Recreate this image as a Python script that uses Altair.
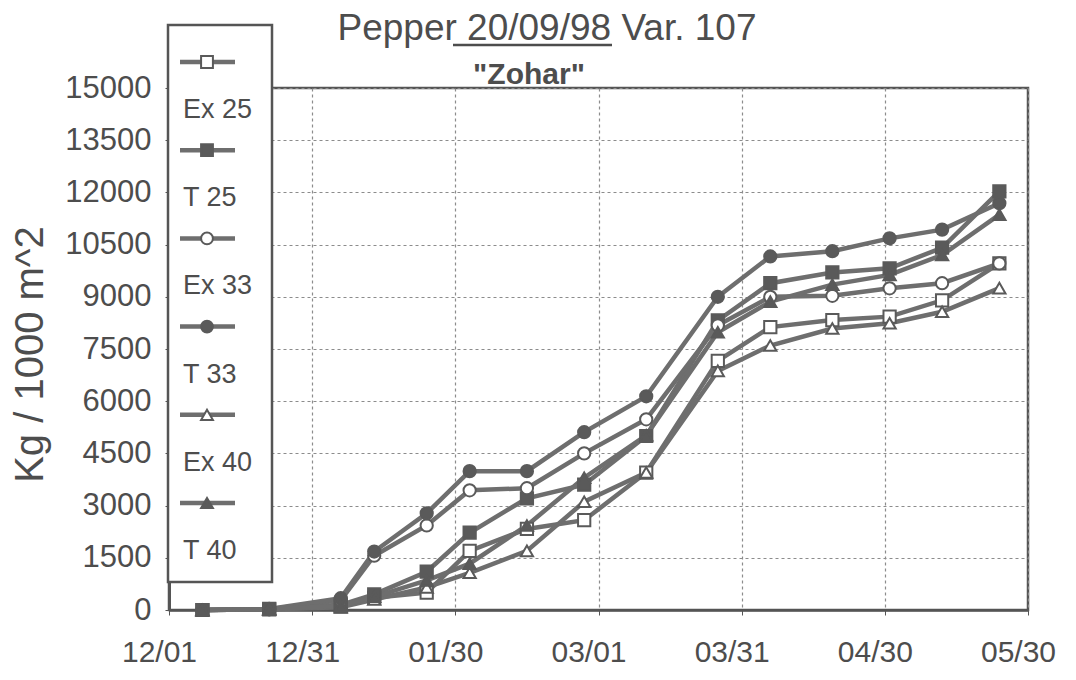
import altair as alt
import pandas as pd

# ---- data ----
dates = ["1998-12-08", "1998-12-22", "1999-01-06", "1999-01-13", "1999-01-24",
         "1999-02-02", "1999-02-14", "1999-02-26", "1999-03-11", "1999-03-26",
         "1999-04-06", "1999-04-19", "1999-05-01", "1999-05-12", "1999-05-24"]
ex25 = [0, 20, 100, 350, 500, 1700, 2330, 2580, 3950, 7160, 8130, 8330, 8430, 8900, 9960]
t25 = [0, 30, 150, 450, 1100, 2220, 3210, 3600, 5000, 8320, 9390, 9700, 9820, 10410, 12030]
ex33 = [0, 20, 280, 1560, 2430, 3440, 3500, 4500, 5480, 8180, 9000, 9030, 9245, 9390, 9960]
t33 = [0, 30, 340, 1680, 2780, 3990, 3990, 5110, 6140, 9000, 10160, 10310, 10680, 10930, 11690]
ex40 = [0, 20, 80, 300, 650, 1070, 1700, 3110, 3950, 6870, 7600, 8090, 8240, 8570, 9250]
t40 = [0, 20, 120, 380, 850, 1330, 2430, 3800, 5020, 7980, 8860, 9350, 9630, 10200, 11360]

series_names = ["Ex 25", "T 25", "Ex 33", "T 33", "Ex 40", "T 40"]
series_values = [ex25, t25, ex33, t33, ex40, t40]
series_shapes = ["square", "square", "circle", "circle", "triangle-up", "triangle-up"]
series_fills = ["white", "#5a5a5a", "white", "#5a5a5a", "white", "#5a5a5a"]

x_tick_dates = ["1998-12-01", "1998-12-31", "1999-01-30", "1999-03-01",
                "1999-03-31", "1999-04-30", "1999-05-30"]
y_ticks = [0, 1500, 3000, 4500, 6000, 7500, 9000, 10500, 12000, 13500, 15000]

title_line1 = "Pepper 20/09/98 Var. 107"
title_line2 = "\"Zohar\""
y_title = "Kg / 1000 m^2"

# ---- tables ----
rows = []
for name, vals in zip(series_names, series_values):
    for d, v in zip(dates, vals):
        rows.append({"date": d, "value": v, "series": name})
df = pd.DataFrame(rows)

leg_df = pd.DataFrame({"series": series_names, "idx": list(range(len(series_names)))})


def ms(s):
    return int(pd.Timestamp(s, tz="UTC").value // 10**6)


tick_ms = [ms(d) for d in x_tick_dates]

FONT = "Liberation Sans"
TXT = "#4d4d4d"
LINE = "#6e6e6e"
FRAME = "#555555"

shape_scale = alt.Scale(domain=series_names, range=series_shapes)
fill_scale = alt.Scale(domain=series_names, range=series_fills)

X = alt.X(
    "date:T",
    scale=alt.Scale(type="utc", domain=[tick_ms[0], tick_ms[-1]], nice=False),
    axis=alt.Axis(
        values=tick_ms,
        labelExpr="utcFormat(datum.value, '%m/%d')",
        title=None,
        grid=True, gridDash=[3, 3], gridColor="#8c8c8c", gridWidth=1.2,
        domainColor=FRAME, domainWidth=2.5,
        ticks=True, tickSize=5, tickColor=FRAME,
        labelFontSize=30, labelFont=FONT, labelColor=TXT,
        labelPadding=22, labelFlush=False, labelOverlap=False,
        labelOffset=-10,
    ),
)
Y = alt.Y(
    "value:Q",
    scale=alt.Scale(domain=[0, 15000], nice=False),
    axis=alt.Axis(
        values=y_ticks, format="d",
        title=y_title,
        titleFont=FONT, titleFontSize=40, titleFontWeight="normal", titleColor=TXT,
        titleAngle=270, titleX=-139, titleY=266, titleAlign="center", titleBaseline="middle",
        grid=True, gridDash=[3, 3], gridColor="#8c8c8c", gridWidth=1.2,
        domainColor=FRAME, domainWidth=3,
        ticks=True, tickSize=4, tickColor=FRAME,
        labelFontSize=31, labelFont=FONT, labelColor=TXT, labelPadding=14,
        labelOverlap=False,
    ),
)

base = alt.Chart(df)
lines = base.mark_line(color=LINE, strokeWidth=4.5).encode(x=X, y=Y, detail="series:N")
points = base.mark_point(filled=True, size=150, stroke="#5a5a5a", strokeWidth=2, opacity=1).encode(
    x=X, y=Y,
    shape=alt.Shape("series:N", scale=shape_scale, legend=None),
    fill=alt.Fill("series:N", scale=fill_scale, legend=None),
)

# ---- legend drawn as marks ----
leg = alt.Chart(leg_df).transform_calculate(
    sy="-26 + datum.idx * 88.2", ly="22 + datum.idx * 88.2"
)
leg_box = alt.Chart(pd.DataFrame({"k": [0]})).mark_rect(
    fill="white", stroke=FRAME, strokeWidth=2.5
).encode(x=alt.value(-1), x2=alt.value(103), y=alt.value(-63), y2=alt.value(494))
leg_lines = leg.mark_rule(color=LINE, strokeWidth=4.5).encode(
    x=alt.value(11), x2=alt.value(66), y=alt.Y("sy:Q", scale=None, axis=None)
)
leg_pts = leg.mark_point(filled=True, size=140, stroke="#5a5a5a", strokeWidth=2, opacity=1).encode(
    x=alt.value(38), y=alt.Y("sy:Q", scale=None, axis=None),
    shape=alt.Shape("series:N", scale=shape_scale, legend=None),
    fill=alt.Fill("series:N", scale=fill_scale, legend=None),
)
leg_txt = leg.mark_text(align="left", baseline="middle", fontSize=27, font=FONT, color=TXT).encode(
    x=alt.value(14), y=alt.Y("ly:Q", scale=None, axis=None), text="series:N"
)

# ---- titles ----
t1 = alt.Chart(pd.DataFrame({"t": [title_line1]})).mark_text(
    align="center", baseline="alphabetic", fontSize=37, font=FONT, color=TXT
).encode(x=alt.value(378), y=alt.value(-48), text="t:N")
t_ul = alt.Chart(pd.DataFrame({"k": [0]})).mark_rule(color=TXT, strokeWidth=2.5).encode(
    x=alt.value(284), x2=alt.value(443), y=alt.value(-43)
)
t2 = alt.Chart(pd.DataFrame({"t": [title_line2]})).mark_text(
    align="center", baseline="alphabetic", fontSize=30, fontWeight="bold", font=FONT, color=TXT
).encode(x=alt.value(360), y=alt.value(-4), text="t:N")

chart = alt.layer(lines, points, leg_box, leg_lines, leg_pts, leg_txt, t1, t_ul, t2).properties(
    width=859, height=522,
    autosize=alt.AutoSizeParams(type="none"),
    padding={"left": 161, "top": 80, "right": 40, "bottom": 64},
    background="white",
).configure_view(stroke=FRAME, strokeWidth=2.5)

chart.save("out.html", embed_options={"renderer": "svg", "actions": False})
